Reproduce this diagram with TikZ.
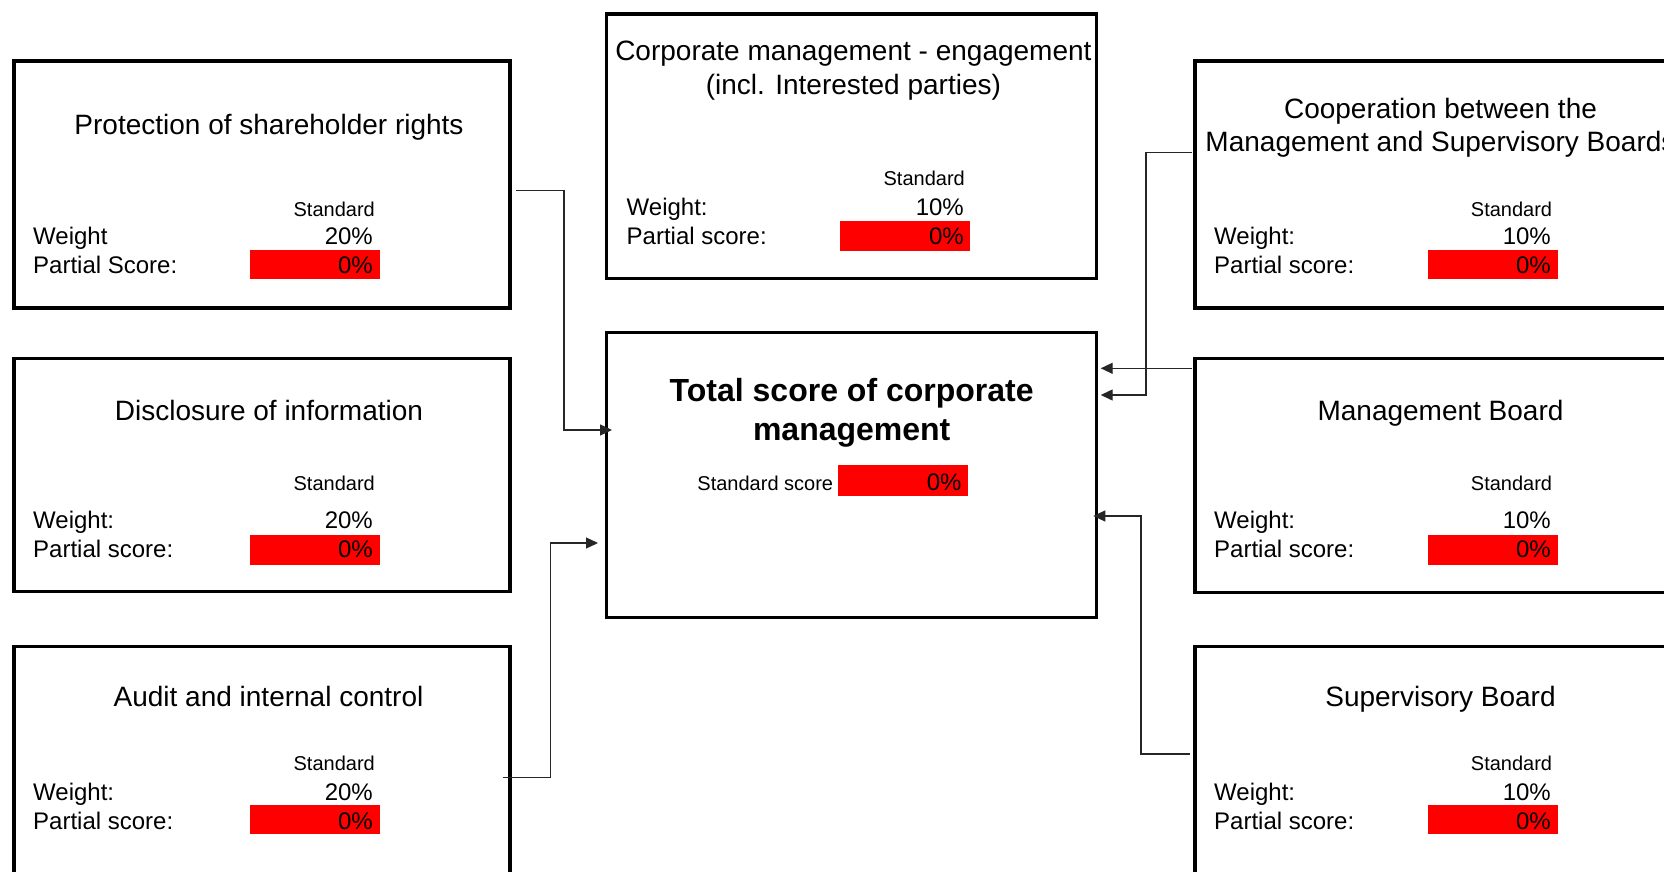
\documentclass[tikz,border=0pt]{standalone}
\usepackage{fontspec}
\setmainfont{Liberation Sans}
\usetikzlibrary{arrows.meta}
\tikzset{
  cbox/.style={draw=black, line width=3.5pt, rectangle, inner sep=0pt, outer sep=0pt, anchor=north west, minimum width=496pt},
  ttl/.style={inner sep=0pt, anchor=base, font=\fontsize{28}{34}\selectfont},
  btl/.style={inner sep=0pt, anchor=base, font=\fontsize{32}{38}\selectfont\bfseries},
  lbl/.style={inner sep=0pt, anchor=base west, font=\fontsize{24}{28}\selectfont},
  val/.style={inner sep=0pt, anchor=base east, font=\fontsize{24}{28}\selectfont},
  std/.style={inner sep=0pt, anchor=base east, font=\fontsize{20}{24}\selectfont},
  redbar/.style={fill=red, draw=none},
  conn/.style={draw=black!85, line width=1.3pt},
  arr/.style={conn, -{Triangle[length=12pt,width=11pt]}}
}
\begin{document}
\begin{tikzpicture}[x=1pt,y=-1pt]
\useasboundingbox (0,0) rectangle (1664,872);
\clip (0,0) rectangle (1664,872);
\fill[white] (0,0) rectangle (1664,872);

% ---------- left column ----------
\node[cbox, minimum height=247pt] (L1) at (14,61) {};
\node[ttl] (L1t) at (269,135) {Protection of shareholder rights};
\node[std] (L1s) at (375,216) {Standard};
\node[lbl] (L1w) at (33,244) {Weight};
\node[val] (L1v) at (373,244) {20\%};
\fill[redbar] (250,250) rectangle (380,279.3);
\node[lbl] (L1p) at (33,273.3) {Partial Score:};
\node[val] (L1r) at (373,273.3) {0\%};

\node[cbox, minimum height=233.4pt] (L2) at (14,358.3) {};
\node[ttl] (L2t) at (269,420) {Disclosure of information};
\node[std] (L2s) at (375,490) {Standard};
\node[lbl] (L2w) at (33,528.3) {Weight:};
\node[val] (L2v) at (373,528.3) {20\%};
\fill[redbar] (250,535) rectangle (380,565);
\node[lbl] (L2p) at (33,557.3) {Partial score:};
\node[val] (L2r) at (373,557.3) {0\%};

\node[cbox, minimum height=260pt] (L3) at (14,646.7) {};
\node[ttl] (L3t) at (268.5,706) {Audit and internal control};
\node[std] (L3s) at (375,770.7) {Standard};
\node[lbl] (L3w) at (33,800) {Weight:};
\node[val] (L3v) at (373,800) {20\%};
\fill[redbar] (250,805) rectangle (380,834.3);
\node[lbl] (L3p) at (33,829.3) {Partial score:};
\node[val] (L3r) at (373,829.3) {0\%};

% ---------- centre column ----------
\node[cbox, minimum width=490pt, minimum height=264.3pt] (T) at (606.7,14) {};
\node[ttl] (Tt1) at (853.4,61) {Corporate management - engagement};
\node[ttl] (Tt2) at (853.4,95) {(incl. Interested parties)};
\node[std] (Ts) at (965,185) {Standard};
\node[lbl] (Tw) at (626.5,215) {Weight:};
\node[val] (Tv) at (964,215) {10\%};
\fill[redbar] (839.6,221) rectangle (970,250.7);
\node[lbl] (Tp) at (626.5,244.3) {Partial score:};
\node[val] (Tr) at (964,244.3) {0\%};

\node[cbox, minimum width=490pt, minimum height=284.6pt] (M) at (606.7,332.7) {};
\node[btl] (Mt1) at (851.7,401.7) {Total score of corporate};
\node[btl] (Mt2) at (851.7,440) {management};
\node[std] (Ms) at (833.3,490) {Standard score};
\fill[redbar] (838,465) rectangle (968,495.7);
\node[val] (Mr) at (961.7,490) {0\%};

% ---------- right column ----------
\node[cbox, minimum height=247pt] (R1) at (1195,61) {};
\node[ttl] (R1t1) at (1440.5,118.3) {Cooperation between the};
\node[ttl] (R1t2) at (1440.5,151.7) {Management and Supervisory Boards};
\node[std] (R1s) at (1552.3,216) {Standard};
\node[lbl] (R1w) at (1214,244) {Weight:};
\node[val] (R1v) at (1551,244) {10\%};
\fill[redbar] (1428.3,250) rectangle (1557.7,279.3);
\node[lbl] (R1p) at (1214,273.3) {Partial score:};
\node[val] (R1r) at (1551,273.3) {0\%};

\node[cbox, minimum height=234pt] (R2) at (1195,358.3) {};
\node[ttl] (R2t) at (1440.5,420) {Management Board};
\node[std] (R2s) at (1552.3,490) {Standard};
\node[lbl] (R2w) at (1214,528.3) {Weight:};
\node[val] (R2v) at (1551,528.3) {10\%};
\fill[redbar] (1428.3,535) rectangle (1557.7,565);
\node[lbl] (R2p) at (1214,557.3) {Partial score:};
\node[val] (R2r) at (1551,557.3) {0\%};

\node[cbox, minimum height=260pt] (R3) at (1195,646.7) {};
\node[ttl] (R3t) at (1440.5,706) {Supervisory Board};
\node[std] (R3s) at (1552.3,770.7) {Standard};
\node[lbl] (R3w) at (1214,800) {Weight:};
\node[val] (R3v) at (1551,800) {10\%};
\fill[redbar] (1428.3,805) rectangle (1557.7,834.3);
\node[lbl] (R3p) at (1214,829.3) {Partial score:};
\node[val] (R3r) at (1551,829.3) {0\%};

% ---------- connectors ----------
\coordinate (c1s) at (515.7,190.7);
\coordinate (c1e) at (612,430);
\coordinate (c2s) at (502.7,777.3);
\coordinate (c2e) at (598,543);
\coordinate (c3s) at (1191.7,152.7);
\coordinate (c3e) at (1100.7,395);
\coordinate (c4s) at (1191.7,368.3);
\coordinate (c4e) at (1100.7,368.3);
\coordinate (c5s) at (1190,754);
\coordinate (c5e) at (1093.3,516);

\draw[arr] (c1s) -- (564,190.7) -- (564,430) -- (c1e);
\draw[arr] (c2s) -- (550.7,777.3) -- (550.7,543) -- (c2e);
\draw[arr] (c3s) -- (1146,152.7) -- (1146,395) -- (c3e);
\draw[arr] (c4s) -- (c4e);
\draw[arr] (c5s) -- (1141,754) -- (1141,516) -- (c5e);
\end{tikzpicture}
\end{document}
